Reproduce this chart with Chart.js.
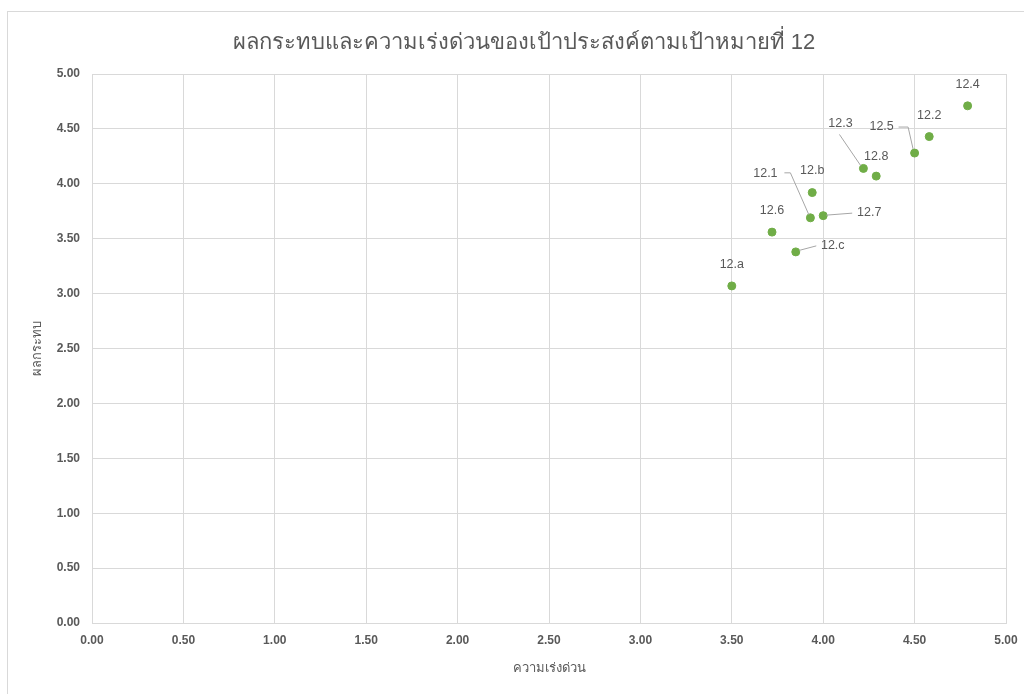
<!DOCTYPE html>
<html>
<head>
<meta charset="utf-8">
<script src="https://cdn.jsdelivr.net/npm/chart.js@4.4.0/dist/chart.umd.min.js"></script>
<style>
  html, body { margin: 0; padding: 0; background: #fff; overflow: hidden; }
  #wrap { width: 1024px; height: 694px; position: relative; }
</style>
</head>
<body>
<div id="wrap"><canvas id="goalChart" width="1024" height="694"></canvas></div>
<script>
// goal labels and their scores
const goalLabels = ['12.1', '12.2', '12.3', '12.4', '12.5', '12.6', '12.7', '12.8', '12.a', '12.b', '12.c'];
const urgency = [3.93, 4.58, 4.22, 4.79, 4.50, 3.72, 4.00, 4.29, 3.50, 3.94, 3.85];
const impact = [3.69, 4.43, 4.14, 4.71, 4.28, 3.56, 3.71, 4.07, 3.07, 3.92, 3.38];

// where each data label sits relative to its point, plus optional leader line
const labelPlacement = {
    '12.1': { dx: -45, dy: -44, leader: [[-26, -45], [-20, -45], [-1.5, -3]] },
    '12.2': { dx: 0, dy: -21 },
    '12.3': { dx: -23, dy: -45, leader: [[-24, -34], [-2.5, -2.5]] },
    '12.4': { dx: 0, dy: -21 },
    '12.5': { dx: -33, dy: -27, leader: [[-16, -26], [-6.5, -26], [-1.5, -4]] },
    '12.6': { dx: 0, dy: -22 },
    '12.7': { dx: 46, dy: -3, leader: [[3, -0.5], [29, -2.5]] },
    '12.8': { dx: 0, dy: -20 },
    '12.a': { dx: 0, dy: -21 },
    '12.b': { dx: 0, dy: -22 },
    '12.c': { dx: 37, dy: -6, leader: [[3.5, -1.5], [20.5, -6]] }
};

const greyText = '#595959';
const gridColor = '#d9d9d9';

const points = urgency.map((x, i) => ({ x: x, y: impact[i] }));

const frameAndLabels = {
    id: 'frameAndLabels',
    beforeDraw(chart) {
        const ctx = chart.ctx;
        ctx.save();
        ctx.strokeStyle = gridColor;
        ctx.lineWidth = 1;
        ctx.strokeRect(7.5, 11.5, 1100, 800);
        ctx.restore();
    },
    afterDatasetsDraw(chart) {
        const ctx = chart.ctx;
        const meta = chart.getDatasetMeta(0);
        ctx.save();
        ctx.font = '12.5px "Liberation Sans", "Noto Sans", sans-serif';
        ctx.fillStyle = greyText;
        ctx.textAlign = 'center';
        ctx.textBaseline = 'middle';
        meta.data.forEach((el, i) => {
            const place = labelPlacement[goalLabels[i]];
            if (place.leader) {
                ctx.beginPath();
                ctx.strokeStyle = '#a6a6a6';
                ctx.lineWidth = 1;
                place.leader.forEach((p, k) => {
                    const px = el.x + p[0], py = el.y + p[1];
                    if (k === 0) ctx.moveTo(px, py); else ctx.lineTo(px, py);
                });
                ctx.stroke();
            }
            ctx.fillText(goalLabels[i], el.x + place.dx, el.y + place.dy);
        });
        ctx.restore();
    }
};

const ctx = document.getElementById('goalChart').getContext('2d');
new Chart(ctx, {
    type: 'scatter',
    data: {
        datasets: [{
            label: 'เป้าประสงค์',
            data: points,
            backgroundColor: '#70ad47',
            borderColor: '#70ad47',
            pointRadius: 4,
            pointHoverRadius: 4
        }]
    },
    options: {
        responsive: false,
        animation: false,
        events: [],
        // left padding pushes the centred title to the right, as in the original
        layout: { padding: { left: 42, right: 18, top: 0, bottom: 0 } },
        plugins: {
            legend: { display: false },
            tooltip: { enabled: false },
            title: {
                display: true,
                text: 'ผลกระทบและความเร่งด่วนของเป้าประสงค์ตามเป้าหมายที่ 12',
                color: greyText,
                font: { family: '"Liberation Sans", "Noto Sans", sans-serif', size: 22, weight: 'normal', lineHeight: 1.2 },
                padding: { top: 30, bottom: 17.6 }
            }
        },
        scales: {
            x: {
                type: 'linear',
                min: 0,
                max: 5,
                ticks: {
                    stepSize: 0.5,
                    padding: 10,
                    color: greyText,
                    font: { family: '"Liberation Sans", sans-serif', size: 12, weight: 'bold' },
                    callback: v => v.toFixed(2)
                },
                grid: { color: gridColor, drawTicks: false, tickLength: 0 },
                border: { color: gridColor },
                title: {
                    display: true,
                    text: 'ความเร่งด่วน',
                    color: greyText,
                    font: { family: '"Liberation Sans", "Noto Sans", sans-serif', size: 13, lineHeight: 1.2 },
                    padding: { top: 0, bottom: 18 }
                },
                afterFit(scale) {
                    scale.height = 71;
                    scale.paddingRight = 0;
                }
            },
            y: {
                type: 'linear',
                min: 0,
                max: 5,
                ticks: {
                    stepSize: 0.5,
                    padding: 12,
                    color: greyText,
                    font: { family: '"Liberation Sans", sans-serif', size: 12, weight: 'bold' },
                    callback: v => v.toFixed(2)
                },
                grid: { color: gridColor, drawTicks: false, tickLength: 0 },
                border: { color: gridColor },
                title: {
                    display: true,
                    text: 'ผลกระทบ',
                    color: greyText,
                    font: { family: '"Liberation Sans", "Noto Sans", sans-serif', size: 13, lineHeight: 1.2 },
                    padding: { top: -12, bottom: 0 }
                },
                afterFit(scale) { scale.width = 50; }
            }
        }
    },
    plugins: [frameAndLabels]
});
</script>
</body>
</html>
